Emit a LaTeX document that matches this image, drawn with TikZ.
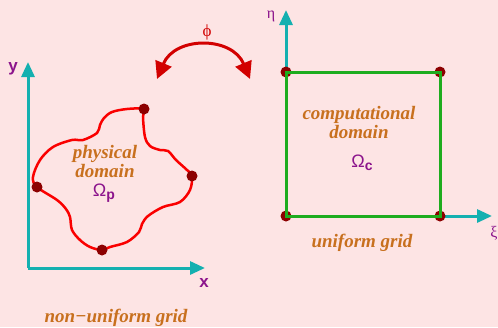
\documentclass[tikz,border=0pt]{standalone}
\usepackage{fontspec}
\setmainfont{Liberation Serif}
\setsansfont{Liberation Sans}
\usetikzlibrary{arrows.meta}
\definecolor{bgpink}{RGB}{253,228,228}
\definecolor{lbl}{RGB}{200,112,30}
\definecolor{sym}{RGB}{140,20,140}
\definecolor{axis}{RGB}{20,176,176}
\definecolor{edge}{RGB}{30,172,30}
\definecolor{curve}{RGB}{250,0,0}
\definecolor{arc}{RGB}{210,0,0}
\definecolor{dot}{RGB}{140,0,0}
\tikzset{
  axisline/.style={line width=3pt,axis,-{Triangle[length=15pt,width=13pt]}},
  domtext/.style={font=\fontsize{19}{19}\selectfont\bfseries\itshape,color=lbl,align=center},
  omega/.style={font=\fontsize{18}{18}\selectfont\sffamily,color=sym},
  axlabel/.style={font=\fontsize{17}{17}\selectfont\sffamily\bfseries,color=sym},
  greek/.style={font=\fontsize{16}{16}\selectfont,color=sym},
}
\begin{document}
\begin{tikzpicture}[x=1pt,y=-1pt]
\useasboundingbox[fill=bgpink] (0,0) rectangle (498,327);
% coordinates
\coordinate (porigin) at ( 28,268);
\coordinate (pxaxis)  at (205,268);
\coordinate (pyaxis)  at ( 28, 62);
\coordinate (corigin) at (286,216);
\coordinate (cxaxis)  at (492,216);
\coordinate (cyaxis)  at (286, 10);
\coordinate (P1)      at (144,109);
\coordinate (P2)      at (192,176);
\coordinate (P3)      at (102,250);
\coordinate (P4)      at ( 37,187);
\coordinate (C1)      at (286, 72);
\coordinate (C2)      at (440, 72);
\coordinate (C3)      at (440,216);
\coordinate (C4)      at (286,216);
\coordinate (phiL)    at (157, 79);
\coordinate (phiR)    at (250, 79);
% axes
\draw[axisline] (porigin) -- (pxaxis);
\draw[axisline] (porigin) -- (pyaxis);
\draw[axisline] (corigin) -- (cxaxis);
\draw[axisline] (corigin) -- (cyaxis);
\node[axlabel] (ylabel) at ( 13, 69) {y};
\node[axlabel] (xlabel) at (204,283) {x};
\node[greek]   (etalabel) at (271, 16) {η};
\node[greek]   (xilabel)  at (494,233) {ξ};
% physical domain
\draw[line width=2.5pt,curve] plot[smooth cycle,tension=0.55] coordinates {
  (P4) (33,177) (40,160) (53,147) (72,140) (83,140) (97,133) (100,125)
  (104,118) (112,112) (127,109) (P1) (143,117) (145,137) (150,146)
  (160,150) (168,151) (176,160) (187,170) (P2) (190,190) (180,202)
  (163,207) (148,216) (142,224) (139,232) (127,242) (110,247) (P3)
  (90,247) (80,240) (72,230) (70,217) (66,209) (57,200)};
\foreach \p in {P1,P2,P3,P4}
  \fill[dot] (\p) circle (5.5);
% computational domain
\foreach \p in {C1,C2,C3,C4}
  \fill[dot] (\p) circle (5.5);
\draw[line width=3pt,edge] (C1) -- (C2) -- (C3) -- (C4) -- cycle;
% mapping
\draw[line width=3pt,arc,{Triangle[length=17pt,width=17pt]}-{Triangle[length=17pt,width=17pt]}]
  (phiL) .. controls (175,36) and (232,36) .. (phiR);
\node[font=\fontsize{17}{17}\selectfont,color=arc] (philabel) at (207,32) {ϕ};
% labels
\node[domtext] (ptext) at (105,162) {physical\\domain};
\node[omega] (pomega) at (104,193) {Ω\raisebox{-0.35ex}{\bfseries\fontsize{14}{14}\selectfont p}};
\node[domtext] (ctext) at (359,123) {computational\\domain};
\node[omega] (comega) at (362,163) {Ω\raisebox{-0.35ex}{\bfseries\fontsize{14}{14}\selectfont c}};
\node[domtext] (cgrid) at (362,243) {uniform grid};
\node[domtext] (pgrid) at (116,318) {non−uniform grid};
\end{tikzpicture}
\end{document}
